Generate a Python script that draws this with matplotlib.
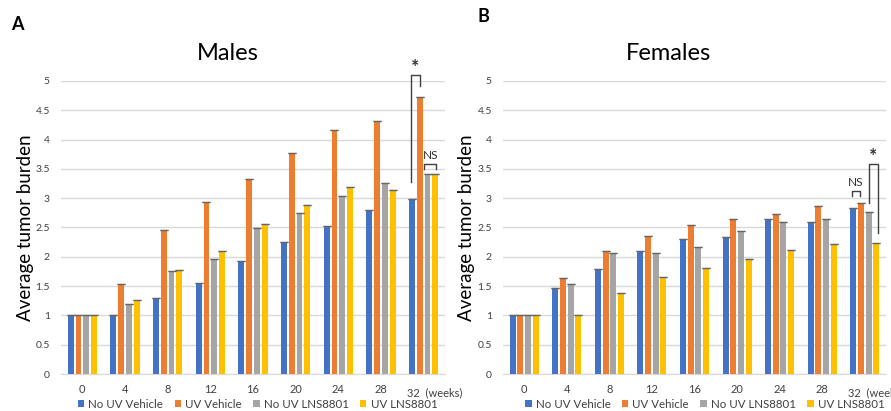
import matplotlib
matplotlib.use("Agg")
import matplotlib.pyplot as plt
import numpy as np
from matplotlib.transforms import blended_transform_factory

plt.rcParams['font.family'] = ['Lato', 'DejaVu Sans']

weeks = ["0", "4", "8", "12", "16", "20", "24", "28", "32"]
series_names = ["No UV Vehicle", "UV Vehicle", "No UV LNS8801", "UV LNS8801"]
colors = ["#4472C4", "#ED7D31", "#A5A5A5", "#FFC000"]

males_no_uv_vehicle = [1.00, 1.01, 1.30, 1.55, 1.92, 2.26, 2.53, 2.80, 2.98]
males_uv_vehicle    = [1.00, 1.53, 2.46, 2.94, 3.33, 3.77, 4.16, 4.32, 4.72]
males_no_uv_lns     = [1.00, 1.19, 1.75, 1.97, 2.49, 2.75, 3.03, 3.26, 3.41]
males_uv_lns        = [1.00, 1.27, 1.78, 2.10, 2.56, 2.88, 3.19, 3.14, 3.41]

females_no_uv_vehicle = [1.00, 1.46, 1.80, 2.10, 2.30, 2.34, 2.64, 2.59, 2.83]
females_uv_vehicle    = [1.00, 1.64, 2.10, 2.35, 2.54, 2.65, 2.73, 2.87, 2.91]
females_no_uv_lns     = [1.00, 1.54, 2.07, 2.07, 2.17, 2.44, 2.60, 2.64, 2.76]
females_uv_lns        = [1.00, 1.00, 1.39, 1.66, 1.81, 1.97, 2.12, 2.21, 2.24]

males = [males_no_uv_vehicle, males_uv_vehicle, males_no_uv_lns, males_uv_lns]
females = [females_no_uv_vehicle, females_uv_vehicle, females_no_uv_lns, females_uv_lns]

fig = plt.figure(figsize=(8.91, 4.11), dpi=100)
W, H = 891, 411

def px_axes(l, r, b, t):
    return fig.add_axes([l / W, 1 - b / H, (r - l) / W, (b - t) / H])

axA = px_axes(61, 445, 374, 81)
axB = px_axes(503, 886, 374, 81)

step = 0.18
bw = 0.14
offsets = [(-1.5 + i) * step for i in range(4)]

def draw(ax, data, ypad, legx):
    x = np.arange(len(weeks))
    for i, vals in enumerate(data):
        ax.bar(x + offsets[i], vals, width=bw, color=colors[i], zorder=3,
               label=series_names[i])
        ax.errorbar(x + offsets[i], vals, yerr=0, fmt='none', ecolor='#666666',
                    capsize=2.8, capthick=0.9, elinewidth=0, zorder=4)
    ax.set_xlim(-0.5, 8.5)
    ax.set_ylim(0, 5)
    ax.set_yticks(np.arange(0, 5.01, 0.5))
    ax.set_yticklabels([f"{v:g}" for v in np.arange(0, 5.01, 0.5)], fontsize=7.5,
                       color='#404040')
    ax.yaxis.grid(True, color='#D9D9D9', linewidth=1.0, zorder=0)
    ax.set_axisbelow(True)
    for s in ['left', 'right', 'top']:
        ax.spines[s].set_visible(False)
    ax.spines['bottom'].set_color('#D9D9D9')
    ax.tick_params(axis='y', length=0, pad=ypad)
    ax.tick_params(axis='x', length=0, pad=7)
    ax.set_xticks(x)
    labels = list(weeks[:-1]) + [""]
    ax.set_xticklabels(labels, fontsize=8, color='#404040')
    trans = blended_transform_factory(ax.transData, ax.transAxes)
    ax.text(8 - 0.39, -0.045, weeks[-1] + "  (weeks)", transform=trans,
            ha='left', va='top', fontsize=8, color='#404040')
    ax.set_ylabel("Average tumor burden", fontsize=13.5, color='black')
    leg = ax.legend(loc='center', bbox_to_anchor=(legx, -0.103), ncol=4,
                    frameon=False, fontsize=8.3, handlelength=0.55,
                    handleheight=0.55, handletextpad=0.35, columnspacing=1.0,
                    borderaxespad=0)
    for t in leg.get_texts():
        t.set_color('#404040')

draw(axA, males, 8, 0.512)
draw(axB, females, 8, 0.527)

axA.yaxis.set_label_coords(-0.071, 0.5)
axB.yaxis.set_label_coords(-0.072, 0.5)

fig.text(228 / W, 1 - 53 / H, "Males", ha='center', va='center', fontsize=17)
fig.text(669 / W, 1 - 53 / H, "Females", ha='center', va='center', fontsize=17)
fig.text(17 / W, 1 - 25 / H, "A", ha='center', va='center', fontsize=13,
         fontweight='bold')
fig.text(483 / W, 1 - 17 / H, "B", ha='center', va='center', fontsize=13,
         fontweight='bold')

lc = '#404040'
lw = 1.0
g = 8
# Panel A significance markers (week 32)
xa1 = g + offsets[0] - 0.02
xa2 = g + offsets[1]
axA.plot([xa1, xa1, xa2, xa2], [3.27, 5.10, 5.10, 4.92], color=lc, lw=lw,
         clip_on=False, zorder=5)
axA.text((xa1 + xa2) / 2, 5.08, "*", ha='center', va='bottom', fontsize=14,
         fontweight='bold', color='#303030')
xn1 = g + offsets[2] - 0.08
xn2 = g + offsets[3] + 0.03
axA.plot([xn1, xn1, xn2, xn2], [3.50, 3.58, 3.58, 3.50], color=lc, lw=lw,
         clip_on=False, zorder=5)
axA.text((xn1 + xn2) / 2, 3.64, "NS", ha='center', va='bottom', fontsize=8.5,
         color='#303030')

# Panel B significance markers (week 32)
xb1 = g + offsets[0] - 0.03
xb2 = g + offsets[1] - 0.02
axB.plot([xb1, xb1, xb2, xb2], [3.04, 3.12, 3.12, 3.04], color=lc, lw=lw,
         clip_on=False, zorder=5)
axB.text((xb1 + xb2) / 2, 3.18, "NS", ha='center', va='bottom', fontsize=8.5,
         color='#303030')
xs1 = g + offsets[2]
xs2 = g + offsets[3] + 0.05
axB.plot([xs1, xs1, xs2, xs2], [2.92, 3.58, 3.58, 2.40], color=lc, lw=lw,
         clip_on=False, zorder=5)
axB.text((xs1 + xs2) / 2, 3.56, "*", ha='center', va='bottom', fontsize=14,
         fontweight='bold', color='#303030')

fig.savefig("out.png", dpi=100)
